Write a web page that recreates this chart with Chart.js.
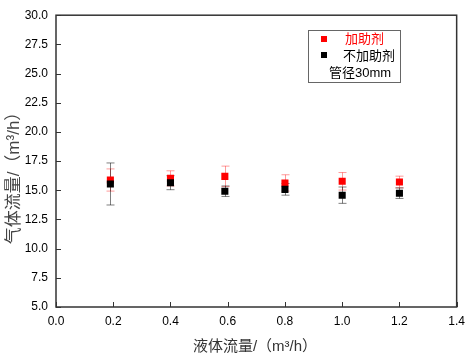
<!DOCTYPE html>
<html>
<head>
<meta charset="utf-8">
<script src="https://cdn.jsdelivr.net/npm/chart.js@4/dist/chart.umd.min.js"></script>
<style>
  body { margin: 0; background: #fff; }
  #chart { display: block; }
</style>
</head>
<body>
<canvas id="chart" width="472" height="359"></canvas>
<script>
const liquidFlow = [0.19, 0.4, 0.59, 0.8, 1.0, 1.2];

const withAdditive = [15.88, 16.02, 16.19, 15.63, 15.77, 15.71];
const withAdditiveErr = [0.95, 0.65, 0.88, 0.7, 0.75, 0.5];

const noAdditive = [15.54, 15.65, 14.92, 15.08, 14.58, 14.75];
const noAdditiveErr = [1.8, 0.6, 0.45, 0.5, 0.7, 0.45];

const legendLabels = ["加助剂", "不加助剂", "管径30mm"];
const xTitle = "液体流量/（m³/h）";
const yTitle = "气体流量/（m³/h）";

const FONT = "'Liberation Sans', Arial, 'Noto Sans CJK SC', sans-serif";

function points(xs, ys) {
  return xs.map((x, i) => ({ x: x, y: ys[i] }));
}

const errors = [noAdditiveErr, withAdditiveErr];
const errColors = ["rgba(0, 0, 0, 0.5)", "rgba(255, 0, 0, 0.4)"];

const extras = {
  id: "extras",
  beforeDatasetsDraw(chart) {
    const ctx = chart.ctx;
    const x = chart.scales.x;
    const y = chart.scales.y;
    // error bars, red first so the black ones sit above
    for (let d = chart.data.datasets.length - 1; d >= 0; d--) {
      const ds = chart.data.datasets[d];
      ctx.save();
      ctx.strokeStyle = errColors[d];
      ctx.lineWidth = 1;
      ds.data.forEach((p, i) => {
        const px = Math.round(x.getPixelForValue(p.x)) + 0.5;
        const top = y.getPixelForValue(p.y + errors[d][i]);
        const bot = y.getPixelForValue(p.y - errors[d][i]);
        ctx.beginPath();
        ctx.moveTo(px, top);
        ctx.lineTo(px, bot);
        ctx.moveTo(px - 4, top);
        ctx.lineTo(px + 4, top);
        ctx.moveTo(px - 4, bot);
        ctx.lineTo(px + 4, bot);
        ctx.stroke();
      });
      ctx.restore();
    }
  },
  afterDraw(chart) {
    const ctx = chart.ctx;
    const a = chart.chartArea;
    const x = chart.scales.x;
    const y = chart.scales.y;
    ctx.save();
    // frame
    ctx.strokeStyle = "#333";
    ctx.lineWidth = 1.5;
    ctx.strokeRect(a.left, a.top, a.right - a.left, a.bottom - a.top);
    // inward ticks
    ctx.lineWidth = 1;
    ctx.beginPath();
    y.ticks.forEach(t => {
      const py = Math.round(y.getPixelForValue(t.value)) + 0.5;
      ctx.moveTo(a.left, py);
      ctx.lineTo(a.left + 5, py);
    });
    x.ticks.forEach(t => {
      const px = Math.round(x.getPixelForValue(t.value)) + 0.5;
      ctx.moveTo(px, a.bottom);
      ctx.lineTo(px, a.bottom - 5);
    });
    ctx.stroke();

    // axis titles
    ctx.fillStyle = "#333";
    ctx.textAlign = "center";
    ctx.textBaseline = "middle";
    ctx.font = "15px " + FONT;
    ctx.fillText(xTitle, 255, 347);
    ctx.save();
    ctx.translate(14, 174);
    ctx.rotate(-Math.PI / 2);
    ctx.font = "17px " + FONT;
    ctx.fillStyle = "#444";
    ctx.fillText(yTitle, 0, 0);
    ctx.restore();

    // legend box
    ctx.strokeStyle = "#666";
    ctx.lineWidth = 1;
    ctx.strokeRect(308.5, 30.5, 92, 52);
    ctx.fillStyle = "#ff0000";
    ctx.fillRect(321, 36, 6, 6);
    ctx.fillStyle = "#000";
    ctx.fillRect(321, 52, 6, 6);
    ctx.textAlign = "left";
    ctx.font = "13px " + FONT;
    ctx.fillStyle = "#ff0000";
    ctx.fillText(legendLabels[0], 345, 39);
    ctx.fillStyle = "#000";
    ctx.fillText(legendLabels[1], 343, 56);
    ctx.fillText(legendLabels[2], 329, 73);
    ctx.restore();
  }
};

new Chart(document.getElementById("chart"), {
  type: "scatter",
  data: {
    datasets: [
      {
        label: legendLabels[1],
        data: points(liquidFlow, noAdditive),
        backgroundColor: "#000",
        pointStyle: "rect",
        pointRadius: 5,
        borderWidth: 0
      },
      {
        label: legendLabels[0],
        data: points(liquidFlow, withAdditive),
        backgroundColor: "#ff0000",
        pointStyle: "rect",
        pointRadius: 5,
        borderWidth: 0
      }
    ]
  },
  options: {
    responsive: false,
    animation: false,
    events: [],
    layout: { padding: { left: 0, top: 13, right: 13, bottom: 0 } },
    plugins: {
      legend: { display: false },
      tooltip: { enabled: false }
    },
    scales: {
      x: {
        type: "linear",
        min: 0,
        max: 1.4,
        afterFit(scale) { scale.height = 52; },
        grid: { display: false, drawTicks: false },
        border: { display: false },
        ticks: {
          stepSize: 0.2,
          padding: 7,
          color: "#000",
          font: { family: FONT, size: 12 },
          callback: v => v.toFixed(1)
        }
      },
      y: {
        type: "linear",
        min: 5,
        max: 30,
        afterFit(scale) { scale.width = 56; },
        grid: { display: false, drawTicks: false },
        border: { display: false },
        ticks: {
          stepSize: 2.5,
          padding: 8,
          color: "#000",
          font: { family: FONT, size: 12 },
          callback: v => v.toFixed(1)
        }
      }
    }
  },
  plugins: [extras]
});
</script>
</body>
</html>
